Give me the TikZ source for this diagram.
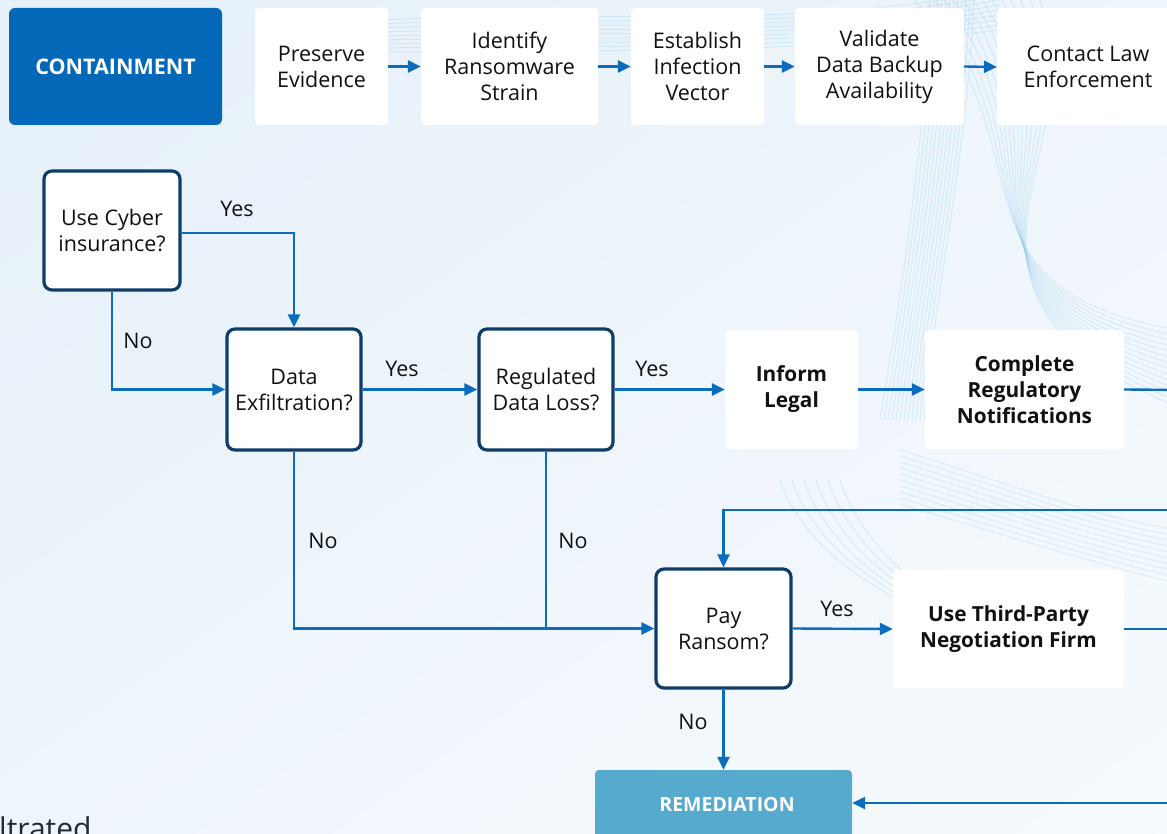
\documentclass[tikz,border=0pt]{standalone}
\usepackage{fontspec}
\setmainfont{Open Sans}
\usetikzlibrary{arrows.meta}
\definecolor{bgA}{HTML}{E4EFF8}
\definecolor{bgB}{HTML}{F8FBFE}
\definecolor{wave}{HTML}{8FCDEB}
\definecolor{conn}{HTML}{0B6CBD}
\definecolor{navy}{HTML}{0E3D69}
\definecolor{contc}{HTML}{0468B8}
\definecolor{remc}{HTML}{56AACE}
\definecolor{txt}{HTML}{111111}
\definecolor{cuttxt}{HTML}{1F2A36}
\tikzset{
  every node/.style={font=\fontsize{21.5}{26}\selectfont, text=txt},
  stepbox/.style={fill=white, rounded corners=4pt, align=center, inner sep=0pt},
  decbox/.style={fill=white, draw=navy, line width=3.2pt, rounded corners=8pt, align=center, inner sep=0pt},
  boldbox/.style={stepbox, font=\fontsize{20.8}{26}\selectfont\bfseries},
  phasebox/.style={rounded corners=6pt, align=center, inner sep=0pt, font=\fontsize{21.5}{26}\selectfont\bfseries, text=white},
  conline/.style={draw=conn, line width=2.4pt},
  arr/.style={conline, -{Triangle[length=13pt,width=12pt]}},
  lbl/.style={inner sep=0pt},
  waveline/.style={draw=wave, line width=1pt, opacity=0.28}
}
\begin{document}
\begin{tikzpicture}[x=1pt,y=-1pt]
\useasboundingbox (0,0) rectangle (1167,834);
\clip (0,0) rectangle (1167,834);
\shade[shading=axis, left color=bgA, right color=bgB, shading angle=35] (-300,-300) rectangle (1467,1134);
% decorative waves
\foreach \i in {0,...,13} {
  \draw[waveline] (905+10*\i,-10) .. controls (1060+4*\i,140) and (930-3*\i,290) .. (1180,330+6*\i);
}
\foreach \i in {0,...,11} {
  \draw[waveline] (930+4*\i,-10) .. controls (925+4*\i,150) and (900+3*\i,300) .. (880+4*\i,420);
}
\foreach \i in {0,...,8} {
  \draw[waveline] (380,20+4*\i) .. controls (600,10+5*\i) and (800,30+3*\i) .. (1000,-10+5*\i);
}
\foreach \i in {0,...,5} {
  \draw[waveline] (780+12*\i,480) .. controls (800+12*\i,540) and (860+10*\i,580) .. (900+8*\i,600);
}
\foreach \i in {0,...,9} {
  \draw[waveline] (900,450+6*\i) .. controls (1000,480+6*\i) and (1100,520+5*\i) .. (1180,530+6*\i);
}

% top row
\node[phasebox, fill=contc, minimum width=213pt, minimum height=117pt] (cont) at (115.5,66.5) {CONTAINMENT};
\node[stepbox, minimum width=133pt, minimum height=117pt] (pres) at (321.5,66.5) {Preserve\\Evidence};
\node[stepbox, minimum width=177pt, minimum height=117pt] (iden) at (509.5,66.5) {Identify\\Ransomware\\Strain};
\node[stepbox, minimum width=133pt, minimum height=117pt] (esta) at (697.5,66.5) {Establish\\Infection\\Vector};
\node[stepbox, minimum width=169pt, minimum height=117pt] (vali) at (879.5,66.5) {Validate\\Data Backup\\Availability};
\fill[white, rounded corners=4pt] (997,8) rectangle (1190,125);
\node[lbl, align=center] (cont2) at (1088,67) {Contact Law\\Enforcement};
\coordinate (lawW) at (997,67);

\draw[arr] (pres.east) -- (iden.west);
\draw[arr] (iden.east) -- (esta.west);
\draw[arr] (esta.east) -- (vali.west);
\draw[arr] (vali.east) -- (lawW);

% decisions and actions
\node[decbox, minimum width=136pt, minimum height=119pt] (cyber) at (112,230.5) {Use Cyber\\insurance?};
\node[decbox, minimum width=134pt, minimum height=121pt] (exfil) at (294,389.5) {Data\\Exfiltration?};
\node[decbox, minimum width=134pt, minimum height=121pt] (reg) at (546,389.5) {Regulated\\Data Loss?};
\node[boldbox, minimum width=133pt, minimum height=119pt] (legal) at (791.5,389.5) {Inform\\Legal};
\node[boldbox, minimum width=199pt, minimum height=119pt] (notif) at (1024.5,389.5) {Complete\\Regulatory\\Notifications};
\node[decbox, minimum width=135pt, minimum height=119pt] (pay) at (723.5,628.5) {Pay\\Ransom?};
\node[boldbox, minimum width=231pt, minimum height=118pt] (third) at (1008.5,629) {Use Third-Party\\Negotiation Firm};
\node[phasebox, fill=remc, rounded corners=4pt, minimum width=257pt, minimum height=80pt, text depth=0pt] (remed) at (723.5,810) {};
\node[lbl, font=\fontsize{19.5}{25}\selectfont\bfseries, text=white] (remtxt) at (727,805) {REMEDIATION};

\node[lbl, anchor=base west, font=\fontsize{30}{36}\selectfont, text=cuttxt] (cut) at (-1,839) {ltrated};

\coordinate (offA) at (1190,390);
\coordinate (offB) at (1190,510);
\coordinate (offC) at (1190,629);
\coordinate (offD) at (1190,803);

\draw[arr] (cyber.east |- 0,233) -| (exfil.north);
\draw[arr] (cyber.south) |- (exfil.west);
\draw[arr] (exfil.east) -- (reg.west);
\draw[arr] (reg.east) -- (legal.west);
\draw[arr] (legal.east) -- (notif.west);
\draw[conline] (notif.east) -- (offA);
\draw[arr] (exfil.south) |- (pay.west);
\draw[conline] (reg.south) -- (reg.south |- pay.west);
\draw[arr] (offB) -| (pay.north);
\draw[arr] (pay.east) -- (third.west);
\draw[conline] (third.east) -- (offC);
\draw[arr] (pay.south) -- (remed.north);
\draw[arr] (offD) -- (offD -| remed.east);

% labels
\node[lbl] (l1) at (237,209) {Yes};
\node[lbl] (l2) at (138,341) {No};
\node[lbl] (l3) at (402,369) {Yes};
\node[lbl] (l4) at (652,369) {Yes};
\node[lbl] (l5) at (323,541) {No};
\node[lbl] (l6) at (573,541) {No};
\node[lbl] (l7) at (837,609) {Yes};
\node[lbl] (l8) at (693,722) {No};
\end{tikzpicture}
\end{document}
